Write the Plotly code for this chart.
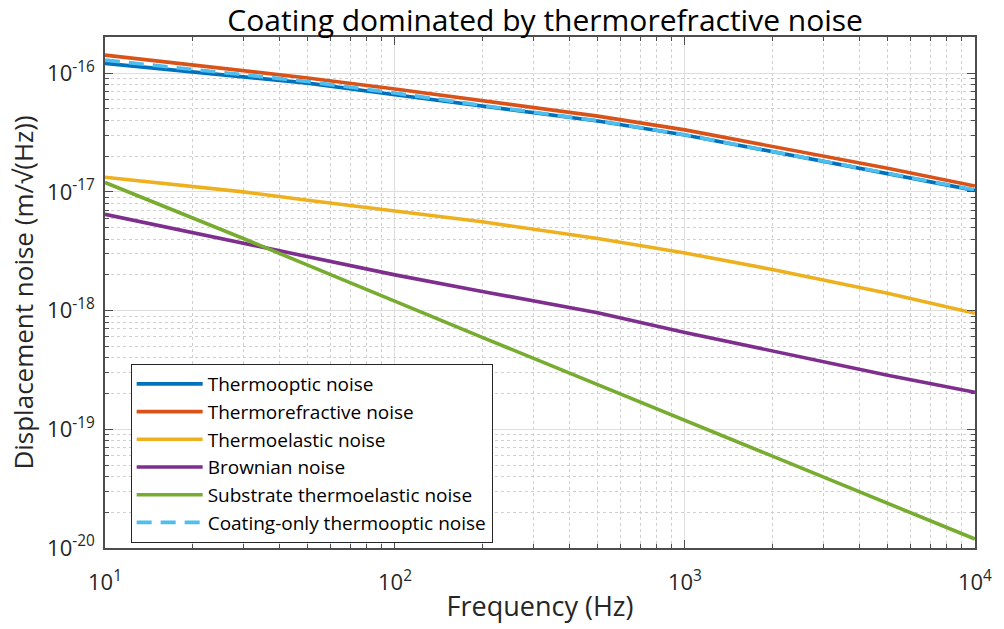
import plotly.graph_objects as go

freq = [10, 20, 30, 50, 100, 200, 500, 1000, 2000, 5000, 10000]

thermooptic = [1.21e-16, 1.03e-16, 9.3e-17, 8.25e-17, 6.59e-17, 5.27e-17, 3.95e-17, 3.02e-17, 2.18e-17, 1.43e-17, 1.03e-17]
thermorefractive = [1.42e-16, 1.17e-16, 1.045e-16, 9.12e-17, 7.36e-17, 5.91e-17, 4.35e-17, 3.33e-17, 2.43e-17, 1.58e-17, 1.12e-17]
thermoelastic = [1.33e-17, 1.12e-17, 1.0e-17, 8.5e-18, 6.9e-18, 5.6e-18, 4.05e-18, 3.06e-18, 2.22e-18, 1.40e-18, 9.5e-19]
brownian = [6.47e-18, 4.55e-18, 3.68e-18, 2.85e-18, 2.0e-18, 1.45e-18, 9.6e-19, 6.55e-19, 4.58e-19, 2.85e-19, 2.05e-19]
substrate_te = [1.2e-17, 6.1e-18, 4.05e-18, 2.42e-18, 1.19e-18, 5.95e-19, 2.38e-19, 1.19e-19, 5.95e-20, 2.38e-20, 1.19e-20]
coating_only = [1.29e-16, 1.08e-16, 9.6e-17, 8.5e-17, 6.8e-17, 5.35e-17, 3.98e-17, 3.03e-17, 2.19e-17, 1.44e-17, 1.04e-17]

x_tickvals = [10, 100, 1000, 10000]
x_ticktext = ["10<sup>1</sup>", "10<sup>2</sup>", "10<sup>3</sup>", "10<sup>4</sup>"]
y_tickvals = [1e-20, 1e-19, 1e-18, 1e-17, 1e-16]
y_ticktext = ["10<sup>-20</sup>", "10<sup>-19</sup>", "10<sup>-18</sup>", "10<sup>-17</sup>", "10<sup>-16</sup>"]
minor_digits = [2, 3, 4, 5, 6, 7, 8, 9]
x_minorvals = [k * d for d in [10, 100, 1000] for k in minor_digits]
y_minorvals = [k * d for d in [1e-20, 1e-19, 1e-18, 1e-17] for k in minor_digits]

names = ["Thermooptic noise", "Thermorefractive noise", "Thermoelastic noise",
         "Brownian noise", "Substrate thermoelastic noise", "Coating-only thermooptic noise"]
series = [thermooptic, thermorefractive, thermoelastic, brownian, substrate_te, coating_only]
colors = ["#0072BD", "#D95319", "#EDB120", "#7E2F8E", "#77AC30", "#4DBEEE"]
dashes = ["solid", "solid", "solid", "solid", "solid", "15px,9px"]

FONT = "'Open Sans', 'Noto Sans', sans-serif"
TXT = "#262626"

fig = go.Figure()
for n, s, c, d in zip(names, series, colors, dashes):
    fig.add_trace(go.Scatter(x=freq, y=s, mode="lines", name=n,
                             line=dict(color=c, width=3.6, dash=d)))

axis_common = dict(
    type="log",
    tickmode="array",
    showline=True, linecolor="#4d4d4d", linewidth=1.5, mirror="ticks",
    ticks="inside", ticklen=8, tickcolor="#4d4d4d", tickwidth=1,
    showgrid=True, gridcolor="#dedede", gridwidth=1,
    tickfont=dict(family=FONT, size=22, color=TXT),
    zeroline=False,
)
minor_common = dict(tickmode="array", ticks="inside", ticklen=4, tickcolor="#4d4d4d", showgrid=True,
                    gridcolor="#cfcfcf", griddash="dot", gridwidth=1)

fig.update_xaxes(**axis_common, range=[1, 4.0003], tickvals=x_tickvals, ticktext=x_ticktext,
                 minor=dict(**minor_common, tickvals=x_minorvals),
                 title=dict(text="Frequency (Hz)", font=dict(family=FONT, size=27, color=TXT), standoff=2),
                 ticklabelstandoff=14)
fig.update_yaxes(**axis_common, range=[-20, -15.695], tickvals=y_tickvals, ticktext=y_ticktext,
                 minor=dict(**minor_common, tickvals=y_minorvals),
                 title=dict(text="Displacement noise (m/√(Hz))", font=dict(family=FONT, size=26, color=TXT), standoff=6),
                 ticklabelstandoff=4)

fig.update_layout(
    width=1004, height=629,
    margin=dict(l=105, r=19, t=37, b=76),
    paper_bgcolor="white", plot_bgcolor="white",
    title=dict(text="Coating dominated by thermorefractive noise", x=0.543, xanchor="center",
               y=0.968, yanchor="middle", font=dict(family=FONT, size=30, color="#000000")),
    legend=dict(x=0.0295, y=0.36, xanchor="left", yanchor="top",
                bgcolor="white", bordercolor="#262626", borderwidth=1, itemwidth=66,
                font=dict(family=FONT, size=19, color="#000000"), tracegroupgap=0),
    showlegend=True,
)

fig.write_html("out.html")
